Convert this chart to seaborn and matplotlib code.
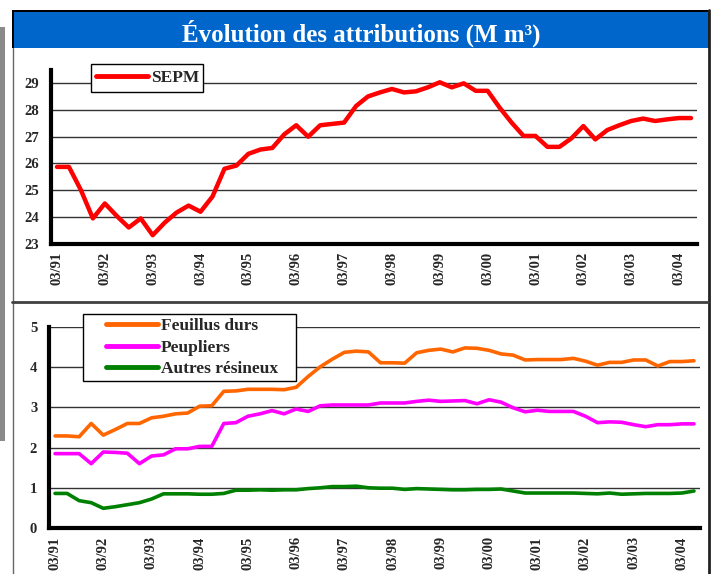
import numpy as np
import matplotlib
matplotlib.use("Agg")
import matplotlib.pyplot as plt
import seaborn as sns
from matplotlib.patches import Rectangle
from matplotlib.lines import Line2D

# quarterly values, 03/91 .. 06/04 (M m3)
sepm = [25.87, 25.87, 25.0, 23.94, 24.5, 24.03, 23.6, 23.94, 23.31, 23.78,
        24.16, 24.42, 24.19, 24.76, 25.8, 25.92, 26.36, 26.52, 26.58, 27.09,
        27.43, 27.0, 27.43, 27.48, 27.53, 28.15, 28.51, 28.66, 28.79, 28.66,
        28.70, 28.85, 29.04, 28.85, 29.0, 28.72, 28.72, 28.09, 27.53, 27.03,
        27.03, 26.62, 26.62, 26.94, 27.40, 26.90, 27.25, 27.43, 27.59, 27.68,
        27.59, 27.65, 27.70, 27.70]
feuillus = [2.29, 2.29, 2.27, 2.60, 2.31, 2.45, 2.60, 2.60, 2.74, 2.78,
            2.84, 2.86, 3.03, 3.04, 3.40, 3.41, 3.45, 3.45, 3.45, 3.44,
            3.50, 3.77, 4.01, 4.20, 4.37, 4.40, 4.38, 4.11, 4.11, 4.10,
            4.36, 4.42, 4.45, 4.38, 4.48, 4.47, 4.42, 4.33, 4.30, 4.18,
            4.19, 4.19, 4.19, 4.22, 4.15, 4.05, 4.12, 4.12, 4.18, 4.18,
            4.03, 4.14, 4.14, 4.16]
peupliers = [1.85, 1.85, 1.85, 1.60, 1.89, 1.88, 1.86, 1.60, 1.79, 1.82,
             1.97, 1.97, 2.03, 2.03, 2.60, 2.62, 2.78, 2.84, 2.92, 2.84,
             2.96, 2.90, 3.04, 3.06, 3.06, 3.06, 3.06, 3.11, 3.11, 3.11,
             3.15, 3.18, 3.15, 3.16, 3.17, 3.09, 3.19, 3.13, 2.99, 2.89,
             2.93, 2.90, 2.90, 2.90, 2.78, 2.62, 2.64, 2.63, 2.57, 2.52,
             2.57, 2.57, 2.59, 2.59]
autres = [0.86, 0.86, 0.68, 0.63, 0.49, 0.53, 0.58, 0.63, 0.72, 0.85,
          0.85, 0.85, 0.84, 0.84, 0.86, 0.94, 0.94, 0.95, 0.94, 0.95,
          0.95, 0.98, 1.00, 1.03, 1.03, 1.04, 1.00, 0.99, 0.99, 0.96,
          0.98, 0.97, 0.96, 0.95, 0.95, 0.96, 0.96, 0.97, 0.92, 0.87,
          0.87, 0.87, 0.87, 0.87, 0.86, 0.85, 0.87, 0.84, 0.85, 0.86,
          0.86, 0.86, 0.87, 0.92]
year_labels = ["03/91", "03/92", "03/93", "03/94", "03/95", "03/96", "03/97",
               "03/98", "03/99", "03/00", "03/01", "03/02", "03/03", "03/04"]

quarters = np.arange(len(sepm))

W, H = 712, 574
sns.set_style("white")
plt.rcParams['font.family'] = ['Liberation Serif', 'DejaVu Serif']
plt.rcParams['font.weight'] = 'bold'

fig = plt.figure(figsize=(W / 100, H / 100), dpi=100)
fig.patch.set_facecolor('white')


def fx(x):
    return x / W


def fy(y):
    return 1 - y / H


def box(x0, y0, x1, y1, z=0, **kw):
    r = Rectangle((fx(x0), fy(y1)), (x1 - x0) / W, (y1 - y0) / H,
                  transform=fig.transFigure, zorder=z, **kw)
    fig.add_artist(r)
    return r


def hline(x0, x1, y, **kw):
    fig.add_artist(Line2D([fx(x0), fx(x1)], [fy(y), fy(y)], transform=fig.transFigure, **kw))


def vline(x, y0, y1, **kw):
    fig.add_artist(Line2D([fx(x), fx(x)], [fy(y0), fy(y1)], transform=fig.transFigure, **kw))


# frame decorations
box(0, 27, 5, 441, color='#8a8a8a', lw=0)
box(12, 10, 710, 48, color='black', lw=0)
box(14, 12, 708, 48, color='#0066CC', lw=0)
vline(12.5, 48, 574, color='#666666', lw=1)
vline(709, 10, 574, color='#222222', lw=2)
hline(12, 708, 302, color='#404040', lw=2)
fig.text(fx(361), fy(42), "Évolution des attributions (M m³)", color='white',
         fontsize=18, fontweight='bold', ha='center', va='baseline')

ax1 = fig.add_axes([fx(51), fy(243.5), (697 - 51) / W, (243.5 - 70) / H])
ax2 = fig.add_axes([fx(49), fy(528), (700 - 49) / W, (528 - 327) / H])

sns.lineplot(x=quarters, y=sepm, ax=ax1, color='#FF0000', lw=3.2, solid_joinstyle='round')
sns.lineplot(x=quarters, y=feuillus, ax=ax2, color='#FF6600', lw=2.6, solid_joinstyle='round')
sns.lineplot(x=quarters, y=peupliers, ax=ax2, color='#FF00FF', lw=2.6, solid_joinstyle='round')
sns.lineplot(x=quarters, y=autres, ax=ax2, color='#008000', lw=2.6, solid_joinstyle='round')

for ax in (ax1, ax2):
    ax.set_facecolor('none')
    for s in ('top', 'right'):
        ax.spines[s].set_visible(False)
    for s in ('left', 'bottom'):
        ax.spines[s].set_color('black')
        ax.spines[s].set_linewidth(3)
    ax.set_xlim(-0.5, len(sepm) - 0.5)
    ax.set_xticks(quarters[::4])
    ax.set_xticklabels(year_labels, rotation=90, fontsize=10.5, fontweight='bold')
    ax.set_xticks(np.arange(-0.5, len(sepm), 1), minor=True)
    ax.tick_params(axis='x', which='major', length=0, pad=6)
    ax.tick_params(axis='x', which='minor', length=3.5, width=3, color='black', direction='out')
    ax.tick_params(axis='y', length=3.5, width=3, color='black', direction='out', pad=5, labelsize=10.5)
    ax.yaxis.grid(True, color='#333333', lw=1)
    ax.xaxis.grid(False)
    ax.set_xlabel("")
    ax.set_ylabel("")
    for lab in ax.get_yticklabels():
        lab.set_fontweight('bold')

ax1.set_ylim(23, 29.5)
ax1.set_yticks(range(23, 30))
ax2.set_ylim(0, 5)
ax2.set_yticks(range(0, 6))
for ax in (ax1, ax2):
    for lab in ax.get_yticklabels():
        lab.set_fontweight('bold')

# legends: white boxes with thin black edge
box(91, 64, 203, 92, z=5, facecolor='white', edgecolor='black', lw=1)
leg1 = fig.legend([Line2D([], [], color='#FF0000', lw=3.5)], ['SEPM'],
                  loc='center left', bbox_to_anchor=(fx(96), fy(78)),
                  frameon=False, borderpad=0, borderaxespad=0, handlelength=3.0,
                  handletextpad=0.15, prop={'weight': 'bold', 'size': 12.5})
leg1.set_zorder(6)

box(83, 314, 296, 381, z=5, facecolor='white', edgecolor='black', lw=1)
leg2 = fig.legend([Line2D([], [], color='#FF6600', lw=3.5),
                   Line2D([], [], color='#FF00FF', lw=3.5),
                   Line2D([], [], color='#008000', lw=3.5)],
                  ['Feuillus durs', 'Peupliers', 'Autres résineux'],
                  loc='center left', bbox_to_anchor=(fx(106), fy(347.5)),
                  frameon=False, borderpad=0, borderaxespad=0, handlelength=3.0,
                  handletextpad=0.15, labelspacing=0.3,
                  prop={'weight': 'bold', 'size': 12.5})
leg2.set_zorder(6)

fig.savefig("out.png", dpi=100)
